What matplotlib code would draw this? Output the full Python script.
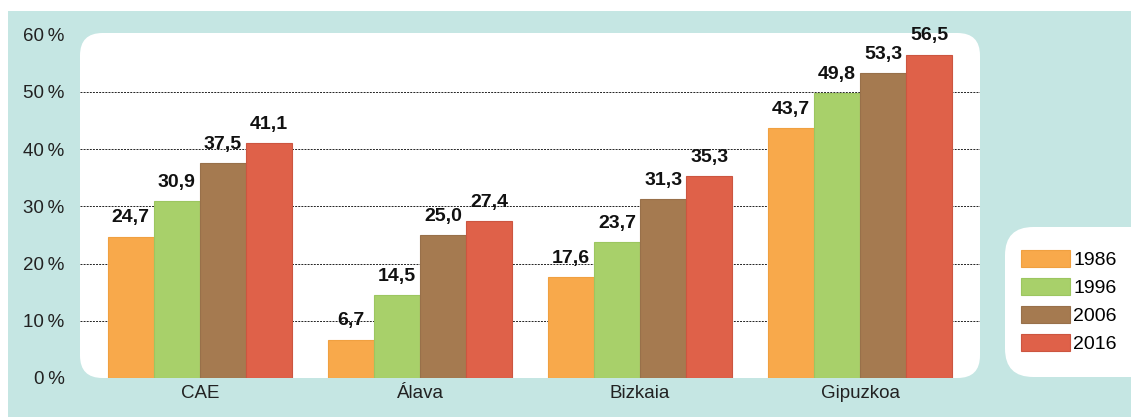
import numpy as np
import matplotlib
matplotlib.use("Agg")
import matplotlib.pyplot as plt
from matplotlib.patches import FancyBboxPatch, Rectangle

plt.rcParams['font.family'] = ['Liberation Sans', 'DejaVu Sans']

# data
regions = ["CAE", "Álava", "Bizkaia", "Gipuzkoa"]
years = ["1986", "1996", "2006", "2016"]
v1986 = [24.7, 6.7, 17.6, 43.7]
v1996 = [30.9, 14.5, 23.7, 49.8]
v2006 = [37.5, 25.0, 31.3, 53.3]
v2016 = [41.1, 27.4, 35.3, 56.5]
colors = ["#f8a94b", "#a8d06a", "#a57a50", "#df6149"]
edges = ["#f0a040", "#9cc660", "#98704a", "#cc5540"]

W, H = 1131, 417
fig = plt.figure(figsize=(W / 100, H / 100), dpi=100)
fig.patch.set_facecolor("white")

# teal background panel
fig.patches.append(Rectangle((8 / W, 0), 1, 1 - 11 / H, transform=fig.transFigure,
                             facecolor="#c5e6e3", edgecolor="none", zorder=-2))
# white legend panel
fig.patches.append(FancyBboxPatch((1005 / W, 1 - 377 / H), 160 / W, 150 / H,
                                  boxstyle="round,pad=0,rounding_size=0.025",
                                  transform=fig.transFigure, mutation_aspect=W / H,
                                  facecolor="white", edgecolor="none", zorder=-1))

ax = fig.add_axes([80 / W, 1 - 378 / H, 900 / W, 345 / H])
ax.set_facecolor("none")
ax.add_patch(FancyBboxPatch((0, 0), 1, 1, boxstyle="round,pad=0,rounding_size=0.025",
                            transform=ax.transAxes, mutation_aspect=900 / 345,
                            facecolor="white", edgecolor="none", zorder=0, clip_on=False))

x = np.arange(len(regions))
bw = 0.21
series = [v1986, v1996, v2006, v2016]
for i, vals in enumerate(series):
    pos = x + (i - 1.5) * bw
    ax.bar(pos, vals, bw, color=colors[i], edgecolor=edges[i], linewidth=0.8,
           label=years[i], zorder=3)
    for px, v in zip(pos, vals):
        ax.text(px, v + 1.8, f"{v:.1f}".replace(".", ","), ha="center", va="bottom",
                fontsize=14, fontweight="bold", color="#111111", zorder=4)

ax.set_xlim(-0.545, 3.545)
ax.set_ylim(0, 60.3)
ax.set_yticks(range(0, 61, 10))
ax.set_yticklabels([f"{t}\u2009%" for t in range(0, 61, 10)], fontsize=13.5, color="#222222")
ax.set_xticks(x)
ax.set_xticklabels(regions, fontsize=13.5, color="#222222")
ax.tick_params(length=0, pad=11)
ax.tick_params(axis="x", pad=5)
for t in range(10, 60, 10):
    ax.axhline(t, color="#222222", linestyle=(0, (2, 1.2)), linewidth=0.7, zorder=1)
for s in ax.spines.values():
    s.set_visible(False)

leg = fig.legend(loc="upper left", bbox_to_anchor=(1021 / W, 1 - 250 / H), frameon=False,
                 fontsize=14, handlelength=2.5, handleheight=1.0, labelspacing=0.44,
                 handletextpad=0.2, borderpad=0, borderaxespad=0)

fig.savefig("out.png", dpi=100)
